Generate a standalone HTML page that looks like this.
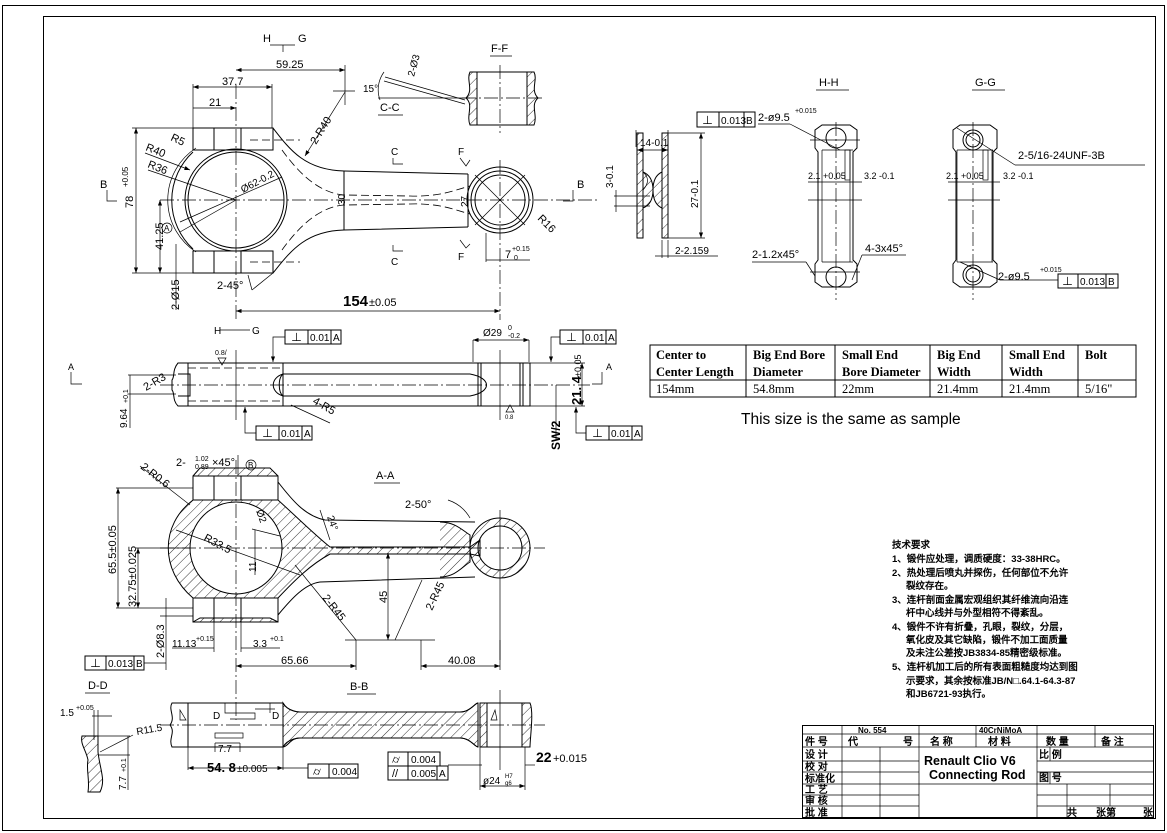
<!DOCTYPE html>
<html><head><meta charset="utf-8"><style>
html,body{margin:0;padding:0;background:#fff}
svg{display:block;font-size:10px}
text{font-family:"Liberation Sans","Noto Sans CJK SC",sans-serif;fill:#000}
.s{fill:none;stroke:#000;stroke-width:1}
.t{fill:none;stroke:#000;stroke-width:0.7}
.c{fill:none;stroke:#000;stroke-width:0.7;stroke-dasharray:14 3 2 3}
.d{fill:none;stroke:#000;stroke-width:0.8;stroke-dasharray:8 4}
.h{fill:url(#hatch);stroke:#000;stroke-width:1}
.tb text{font-family:"Liberation Sans","WenQuanYi Zen Hei",sans-serif;font-weight:bold}
.tbl text{font-family:"Liberation Serif",serif}
</style></head><body>
<svg width="1167" height="833" viewBox="0 0 1167 833" xmlns="http://www.w3.org/2000/svg">
<defs>
<pattern id="hatch" width="7" height="7" patternUnits="userSpaceOnUse" patternTransform="rotate(45)">
<line x1="0" y1="0" x2="0" y2="7" stroke="#000" stroke-width="0.8"/></pattern>
<marker id="a" markerWidth="8" markerHeight="6" refX="8" refY="3" orient="auto"><path d="M0,0 L8,3 L0,6z" fill="#000"/></marker>
<marker id="b" markerWidth="8" markerHeight="6" refX="0" refY="3" orient="auto"><path d="M8,0 L0,3 L8,6z" fill="#000"/></marker>
</defs>
<rect width="1167" height="833" fill="#fff"/>
<rect x="2.5" y="5.5" width="1162" height="825" class="s"/>
<rect x="43.5" y="16.5" width="1112" height="802" class="s" stroke-width="1.3"/>

<!-- ============ TOP VIEW ============ -->
<line x1="160" y1="200" x2="600" y2="200" class="c"/>
<line x1="236" y1="85" x2="236" y2="320" class="c"/>
<line x1="500" y1="160" x2="500" y2="320" class="c"/>
<rect x="193" y="128" width="80" height="22" class="s"/>
<rect x="193" y="251" width="80" height="22" class="s"/>
<line x1="214" y1="128" x2="214" y2="150" class="s"/><line x1="241" y1="128" x2="241" y2="150" class="s"/>
<line x1="214" y1="251" x2="214" y2="273" class="s"/><line x1="241" y1="251" x2="241" y2="273" class="s"/>
<line x1="250" y1="140" x2="300" y2="140" class="d"/><line x1="250" y1="262" x2="300" y2="262" class="d"/>
<path d="M193,152 A66,66 0 0 0 193,249" class="s"/>
<path d="M196,148 A62,62 0 0 0 196,252" class="t"/>
<circle cx="236" cy="200" r="51" class="s"/>
<circle cx="236" cy="200" r="48" class="s" stroke-width="2"/>
<path d="M273,128 C290,150 305,170 344,171 L468,174" class="s"/>
<path d="M273,273 C290,252 305,231 344,230 L468,227" class="s"/>
<line x1="344" y1="171" x2="344" y2="230" class="s"/>
<line x1="468" y1="174" x2="468" y2="227" class="s"/>
<path d="M282,150 C300,175 320,193 344,195 L410,196 C440,197 455,190 470,186" class="d"/>
<path d="M282,250 C300,225 320,207 344,205 L410,204 C440,203 455,210 470,214" class="d"/>
<circle cx="500" cy="200" r="33" class="s"/>
<circle cx="500" cy="200" r="29" class="s"/>
<circle cx="500" cy="200" r="25" class="s"/>
<line x1="475" y1="175" x2="525" y2="225" class="t"/><line x1="475" y1="225" x2="525" y2="175" class="t"/>
<text x="263" y="42" font-size="11">H</text><text x="298" y="42" font-size="11">G</text>
<line x1="270" y1="45" x2="295" y2="45" class="t"/><line x1="283" y1="45" x2="283" y2="52" class="t"/>
<line x1="236" y1="70" x2="345" y2="70" class="t" marker-start="url(#b)" marker-end="url(#a)"/><text x="276" y="68" font-size="11">59.25</text>
<line x1="345" y1="65" x2="345" y2="105" class="t"/><line x1="333" y1="91" x2="355" y2="91" class="t"/>
<line x1="193" y1="87" x2="272" y2="87" class="t" marker-start="url(#b)" marker-end="url(#a)"/><text x="222" y="85" font-size="11">37.7</text>
<line x1="193" y1="84" x2="193" y2="128" class="t"/><line x1="272" y1="84" x2="272" y2="128" class="t"/>
<line x1="193" y1="108" x2="236" y2="108" class="t" marker-end="url(#a)"/><text x="209" y="106" font-size="11">21</text>
<line x1="345" y1="92" x2="305" y2="156" class="t" marker-end="url(#a)"/>
<text x="0" y="0" font-size="11" transform="translate(316,145) rotate(-58)">2-R40</text>
<text x="170" y="140" font-size="11" transform="rotate(25 170 140)">R5</text>
<text x="145" y="150" font-size="11" transform="rotate(22 145 150)">R40</text>
<text x="147" y="167" font-size="11" transform="rotate(22 147 167)">R36</text>
<line x1="145" y1="153" x2="190" y2="170" class="t" marker-end="url(#a)"/>
<line x1="148" y1="170" x2="236" y2="200" class="t"/>
<line x1="180" y1="222" x2="282" y2="177" class="t"/>
<text x="0" y="0" font-size="10" transform="translate(243,193) rotate(-28)">Ø62-0.2</text>
<circle cx="167" cy="228" r="5" class="t"/><text x="164" y="231" font-size="8">A</text>
<line x1="180" y1="232" x2="236" y2="200" class="t"/>
<line x1="132" y1="128" x2="193" y2="128" class="t"/><line x1="132" y1="273" x2="193" y2="273" class="t"/>
<line x1="136" y1="128" x2="136" y2="273" class="t" marker-start="url(#b)" marker-end="url(#a)"/>
<text x="0" y="0" font-size="11" transform="translate(133,208) rotate(-90)">78</text>
<text x="0" y="0" font-size="8" transform="translate(128,187) rotate(-90)">+0.05</text>
<line x1="160" y1="200" x2="160" y2="273" class="t" marker-start="url(#b)" marker-end="url(#a)"/>
<text x="0" y="0" font-size="11" transform="translate(163,250) rotate(-90)">41.25</text>
<line x1="176" y1="244" x2="176" y2="310" class="t"/>
<text x="0" y="0" font-size="11" transform="translate(179,310) rotate(-90)">2-Ø15</text>
<text x="100" y="188" font-size="11">B</text><path d="M107,190 L107,201 L117,201" class="t"/>
<text x="577" y="188" font-size="11">B</text><path d="M573,190 L573,201 L563,201" class="t"/>
<text x="217" y="289" font-size="11">2-45°</text>
<line x1="248" y1="275" x2="252" y2="290" class="t"/><line x1="252" y1="290" x2="273" y2="273" class="t"/>
<line x1="236" y1="311" x2="500" y2="311" class="t" marker-start="url(#b)" marker-end="url(#a)"/>
<text x="343" y="306" font-size="15" font-weight="bold" font-family="Liberation Serif">154</text><text x="369" y="306" font-size="11">±0.05</text>
<text x="0" y="0" font-size="10" transform="translate(345,205) rotate(-90)">30</text>
<text x="0" y="0" font-size="10" transform="translate(468,207) rotate(-90)">27</text>
<line x1="486" y1="233" x2="486" y2="262" class="t"/><line x1="486" y1="260" x2="530" y2="260" class="t"/>
<text x="505" y="258" font-size="11">7</text><text x="512" y="251" font-size="7">+0.15</text><text x="514" y="260" font-size="7">0</text>
<text x="0" y="0" font-size="11" transform="translate(537,219) rotate(45)">R16</text>
<text x="391" y="155" font-size="10">C</text><path d="M393,158 L393,164 L403,164" class="t"/>
<text x="391" y="265" font-size="10">C</text><path d="M393,245 L393,251 L403,251" class="t"/>
<text x="458" y="155" font-size="10">F</text><path d="M460,158 L466,166 L470,160" class="t"/>
<text x="458" y="260" font-size="10">F</text><path d="M460,240 L466,248 L470,244" class="t"/>
<text x="380" y="111" font-size="11">C-C</text><line x1="378" y1="115" x2="403" y2="115" class="t"/>
<line x1="378" y1="98" x2="470" y2="98" class="t"/>
<text x="363" y="92" font-size="10">15°</text>
<path d="M384,72 A30,30 0 0 0 380,100" class="t"/>
<line x1="385" y1="77" x2="465" y2="100" class="t"/><line x1="384" y1="81" x2="465" y2="104" class="t"/>
<text x="0" y="0" font-size="10" transform="translate(414,77) rotate(-75)">2-Ø3</text>
<text x="491" y="52" font-size="11">F-F</text><line x1="490" y1="56" x2="512" y2="56" class="t"/>
<rect x="477" y="72" width="50" height="53" class="s"/>
<path d="M470,72 L477,72 L477,125 L470,125 C466,115 474,105 466,98 C474,90 466,80 470,72z" class="h"/>
<path d="M534,72 L527,72 L527,125 L534,125 C538,115 530,105 538,98 C530,90 538,80 534,72z" class="h"/>
<line x1="500" y1="65" x2="500" y2="133" class="c"/>
<line x1="462" y1="98" x2="545" y2="98" class="c"/>

<!-- I-section -->
<rect x="637" y="133" width="6" height="105" class="h"/>
<rect x="662" y="133" width="6" height="105" class="h"/>
<path d="M643,172 Q653,176 653,190 Q653,176 662,172 L662,208 Q653,204 653,190 Q653,204 643,208z" class="h"/>
<path d="M643,172 Q652,180 643,190" class="t"/>
<line x1="636" y1="147" x2="636" y2="130" class="t"/><line x1="668" y1="130" x2="668" y2="147" class="t"/>
<line x1="637" y1="150" x2="668" y2="150" class="t" marker-start="url(#b)" marker-end="url(#a)"/><text x="640" y="146" font-size="10">14-0.1</text>
<line x1="668" y1="133" x2="705" y2="133" class="t"/><line x1="668" y1="238" x2="705" y2="238" class="t"/>
<line x1="701" y1="133" x2="701" y2="238" class="t" marker-start="url(#b)" marker-end="url(#a)"/>
<text x="0" y="0" font-size="10" transform="translate(698,208) rotate(-90)">27-0.1</text>
<line x1="614" y1="196" x2="650" y2="196" class="t"/><line x1="614" y1="206" x2="650" y2="206" class="t"/>
<line x1="616" y1="190" x2="616" y2="212" class="t"/>
<text x="0" y="0" font-size="10" transform="translate(613,188) rotate(-90)">3-0.1</text>
<line x1="655" y1="256" x2="718" y2="256" class="t"/><line x1="662" y1="240" x2="662" y2="258" class="t"/><line x1="668" y1="240" x2="668" y2="258" class="t"/>
<text x="675" y="254" font-size="10">2-2.159</text>

<!-- H-H -->
<text x="819" y="86" font-size="11">H-H</text><line x1="816" y1="90" x2="849" y2="90" class="t"/>
<path d="M815,130 L822,125 L850,125 L857,130 L857,148 L853,152 L853,260 L857,264 L857,282 L850,287 L822,287 L815,282 L815,264 L818,260 L818,152 L815,148z" class="s"/>
<line x1="822" y1="150" x2="853" y2="150" class="t"/><line x1="822" y1="262" x2="853" y2="262" class="t"/>
<line x1="822" y1="150" x2="822" y2="262" class="t"/><line x1="850" y1="150" x2="850" y2="262" class="t"/>
<circle cx="836" cy="138" r="10" class="s" stroke-width="1.5"/>
<circle cx="836" cy="277" r="10" class="s" stroke-width="1.5"/>
<rect x="845" y="150" width="5" height="30" class="t"/>
<line x1="836" y1="122" x2="836" y2="300" class="c"/>
<line x1="810" y1="140" x2="860" y2="140" class="t"/><line x1="810" y1="272" x2="860" y2="272" class="t"/>
<line x1="808" y1="182" x2="862" y2="182" class="t"/><line x1="808" y1="200" x2="862" y2="200" class="t"/>
<text x="808" y="179" font-size="9">2.1 +0.05</text><text x="864" y="179" font-size="9">3.2 -0.1</text>
<rect x="697" y="112" width="58" height="15" class="s"/><line x1="719" y1="112" x2="719" y2="127" class="s"/><line x1="744" y1="112" x2="744" y2="127" class="s"/>
<text x="702" y="124" font-size="11">⊥</text><text x="721" y="124" font-size="10">0.013</text><text x="746" y="124" font-size="10">B</text>
<text x="758" y="121" font-size="11">2-ø9.5</text><text x="795" y="113" font-size="7">+0.015</text>
<line x1="758" y1="124" x2="790" y2="124" class="t"/><line x1="790" y1="124" x2="840" y2="150" class="t"/>
<text x="752" y="258" font-size="11">2-1.2x45°</text><line x1="752" y1="262" x2="806" y2="262" class="t"/><line x1="806" y1="262" x2="815" y2="276" class="t"/>
<text x="865" y="252" font-size="11">4-3x45°</text><line x1="862" y1="255" x2="906" y2="255" class="t"/><line x1="862" y1="255" x2="852" y2="280" class="t"/>

<!-- G-G -->
<text x="975" y="86" font-size="11">G-G</text><line x1="972" y1="90" x2="1005" y2="90" class="t"/>
<path d="M953,130 L960,125 L990,125 L997,130 L997,148 L993,152 L993,260 L997,264 L997,282 L990,287 L960,287 L953,282 L953,264 L956,260 L956,152 L953,148z" class="s"/>
<line x1="957" y1="150" x2="993" y2="150" class="t"/><line x1="957" y1="262" x2="993" y2="262" class="t"/>
<line x1="957" y1="150" x2="957" y2="262" class="t"/><line x1="992" y1="150" x2="992" y2="262" class="t"/>
<circle cx="973" cy="140" r="10" class="s"/><circle cx="973" cy="140" r="7" class="s"/>
<circle cx="973" cy="275" r="10" class="s"/><circle cx="973" cy="275" r="7" class="s"/>
<rect x="983" y="150" width="5" height="30" class="t"/>
<line x1="973" y1="122" x2="973" y2="300" class="c"/>
<line x1="948" y1="182" x2="1000" y2="182" class="t"/><line x1="948" y1="200" x2="1000" y2="200" class="t"/>
<text x="946" y="179" font-size="9">2.1 +0.05</text><text x="1003" y="179" font-size="9">3.2 -0.1</text>
<line x1="957" y1="128" x2="1015" y2="165" class="t"/><line x1="1015" y1="165" x2="1145" y2="165" class="t"/>
<text x="1018" y="159" font-size="11">2-5/16-24UNF-3B</text>
<line x1="960" y1="262" x2="1000" y2="280" class="t"/><line x1="1000" y1="280" x2="1058" y2="280" class="t"/>
<text x="998" y="280" font-size="11">2-ø9.5</text><text x="1040" y="272" font-size="7">+0.015</text>
<rect x="1058" y="274" width="60" height="14" class="s"/><line x1="1078" y1="274" x2="1078" y2="288" class="s"/><line x1="1106" y1="274" x2="1106" y2="288" class="s"/>
<text x="1062" y="285" font-size="11">⊥</text><text x="1080" y="285" font-size="10">0.013</text><text x="1108" y="285" font-size="10">B</text>

<!-- ============ SIDE VIEW ============ -->
<text x="214" y="334" font-size="10">H</text><text x="252" y="334" font-size="10">G</text>
<line x1="220" y1="330" x2="250" y2="330" class="t"/>
<path d="M178,363 L530,363 L530,406 L178,406 C172,400 175,393 172,390 L172,380 C175,377 172,370 178,363z" class="s"/>
<line x1="188" y1="363" x2="188" y2="406" class="s"/>
<line x1="283" y1="363" x2="283" y2="406" class="s"/>
<line x1="478" y1="363" x2="478" y2="406" class="s"/><line x1="481" y1="363" x2="481" y2="406" class="s"/>
<line x1="520" y1="363" x2="520" y2="406" class="s"/><line x1="523" y1="363" x2="523" y2="406" class="s"/>
<path d="M283,374 L470,374 C492,378 492,392 470,396 L283,396 C278,392 278,378 283,374z" class="s"/>
<path d="M283,374 C270,378 270,392 283,396" class="s"/>
<line x1="188" y1="368" x2="280" y2="368" class="d"/><line x1="188" y1="401" x2="280" y2="401" class="d"/>
<line x1="160" y1="385" x2="590" y2="385" class="c"/>
<line x1="236" y1="350" x2="236" y2="420" class="t"/>
<line x1="500" y1="350" x2="500" y2="420" class="t"/>
<path d="M178,374 L190,374 L190,396 L178,396" class="s"/>
<text x="215" y="355" font-size="7">0.8/</text><path d="M218,358 L226,358 L222,365z" class="t"/>
<text x="0" y="0" font-size="11" transform="translate(146,391) rotate(-30)">2-R3</text>
<line x1="128" y1="375" x2="176" y2="375" class="t"/><line x1="128" y1="394" x2="176" y2="394" class="t"/>
<line x1="130" y1="375" x2="130" y2="428" class="t"/>
<text x="0" y="0" font-size="10" transform="translate(127,428) rotate(-90)">9.64</text>
<text x="0" y="0" font-size="7" transform="translate(128,403) rotate(-90)">+0.1</text>
<text x="68" y="370" font-size="9">A</text><path d="M71,372 L71,384 L82,384" class="t"/>
<text x="606" y="370" font-size="9">A</text><path d="M602,372 L602,384 L592,384" class="t"/>
<text x="0" y="0" font-size="11" transform="translate(312,403) rotate(30)">4-R5</text>
<line x1="291" y1="405" x2="330" y2="423" class="t"/>
<g font-size="10">
<rect x="285" y="330" width="56" height="14" class="s"/><line x1="308" y1="330" x2="308" y2="344" class="s"/><line x1="331" y1="330" x2="331" y2="344" class="s"/>
<text x="291" y="341" font-size="11">⊥</text><text x="310" y="341">0.01</text><text x="333" y="341">A</text>
<path d="M285,337 L273,337 L273,362" class="t" marker-end="url(#a)"/>
<rect x="560" y="330" width="56" height="14" class="s"/><line x1="583" y1="330" x2="583" y2="344" class="s"/><line x1="606" y1="330" x2="606" y2="344" class="s"/>
<text x="566" y="341" font-size="11">⊥</text><text x="585" y="341">0.01</text><text x="608" y="341">A</text>
<path d="M560,337 L551,337 L551,362" class="t" marker-end="url(#a)"/>
<rect x="256" y="426" width="56" height="14" class="s"/><line x1="279" y1="426" x2="279" y2="440" class="s"/><line x1="302" y1="426" x2="302" y2="440" class="s"/>
<text x="262" y="437" font-size="11">⊥</text><text x="281" y="437">0.01</text><text x="304" y="437">A</text>
<path d="M256,433 L245,433 L245,407" class="t" marker-end="url(#a)"/>
<rect x="586" y="426" width="56" height="14" class="s"/><line x1="609" y1="426" x2="609" y2="440" class="s"/><line x1="632" y1="426" x2="632" y2="440" class="s"/>
<text x="592" y="437" font-size="11">⊥</text><text x="611" y="437">0.01</text><text x="634" y="437">A</text>
<path d="M586,433 L576,433 L576,407" class="t" marker-end="url(#a)"/>
</g>
<line x1="473" y1="340" x2="473" y2="362" class="t"/><line x1="529" y1="340" x2="529" y2="362" class="t"/>
<line x1="473" y1="340" x2="529" y2="340" class="t" marker-start="url(#b)" marker-end="url(#a)"/>
<text x="483" y="336" font-size="10">Ø29</text><text x="508" y="330" font-size="7">0</text><text x="508" y="338" font-size="7">-0.2</text>
<line x1="530" y1="363" x2="585" y2="363" class="t"/><line x1="530" y1="406" x2="585" y2="406" class="t"/>
<line x1="582" y1="363" x2="582" y2="406" class="t" marker-start="url(#b)" marker-end="url(#a)"/>
<text x="0" y="0" font-size="13" font-weight="bold" font-family="Liberation Serif" transform="translate(581,405) rotate(-90)">21. 4</text>
<text x="0" y="0" font-size="9" transform="translate(581,377) rotate(-90)">±0.05</text>
<line x1="556" y1="385" x2="556" y2="440" class="t"/>
<text x="0" y="0" font-size="12" font-weight="bold" font-family="Liberation Serif" transform="translate(560,450) rotate(-90)">SW/2</text>
<path d="M506,412 L514,412 L510,405z" class="t"/><text x="505" y="419" font-size="6">0.8</text>

<!-- table -->
<g class="tbl" font-size="12.5">
<rect x="650" y="345" width="486" height="52" class="s"/>
<line x1="650" y1="380" x2="1136" y2="380" class="s"/>
<line x1="746" y1="345" x2="746" y2="397" class="s"/><line x1="835" y1="345" x2="835" y2="397" class="s"/>
<line x1="930" y1="345" x2="930" y2="397" class="s"/><line x1="1002" y1="345" x2="1002" y2="397" class="s"/>
<line x1="1078" y1="345" x2="1078" y2="397" class="s"/>
<g font-weight="bold">
<text x="656" y="359">Center to</text><text x="656" y="376">Center Length</text>
<text x="753" y="359">Big End Bore</text><text x="753" y="376">Diameter</text>
<text x="842" y="359">Small End</text><text x="842" y="376">Bore Diameter</text>
<text x="937" y="359">Big End</text><text x="937" y="376">Width</text>
<text x="1009" y="359">Small End</text><text x="1009" y="376">Width</text>
<text x="1085" y="359">Bolt</text>
</g>
<text x="656" y="393">154mm</text><text x="753" y="393">54.8mm</text><text x="842" y="393">22mm</text>
<text x="937" y="393">21.4mm</text><text x="1009" y="393">21.4mm</text><text x="1085" y="393">5/16"</text>
</g>
<text x="741" y="424" font-size="15.5">This size is the same as sample</text>

<!-- ============ A-A ============ -->
<text x="376" y="479" font-size="11">A-A</text><line x1="374" y1="483" x2="400" y2="483" class="t"/>
<path fill-rule="evenodd" d="M193,500 L278,500 C300,520 315,535 330,547 L470,547 L480,540 L480,556 L470,554 L330,554 C310,565 295,580 278,598 L193,598 C160,570 160,525 193,500z M282,548 A46,46 0 1 0 190,548 A46,46 0 1 0 282,548z" class="h"/>
<rect x="193" y="476" width="85" height="24" class="s" fill="#fff"/>
<rect x="193" y="598" width="85" height="24" class="s" fill="#fff"/>
<line x1="214" y1="476" x2="214" y2="500" class="s"/><line x1="241" y1="476" x2="241" y2="500" class="s"/>
<line x1="214" y1="598" x2="214" y2="622" class="s"/><line x1="241" y1="598" x2="241" y2="622" class="s"/>
<path d="M193,476 L200,468 L270,468 L278,476" class="h"/><path d="M193,622 L200,618 L270,618 L278,622" class="h"/>
<path d="M278,482 C292,500 305,516 325,520 L475,522" class="s"/>
<path d="M278,615 C292,598 305,584 320,582 L475,577" class="s"/>
<path d="M440,522 C455,522 462,530 470,535 L470,562 C462,567 455,577 440,577" class="h"/>
<path fill-rule="evenodd" d="M530,548 A30,30 0 1 0 470,548 A30,30 0 1 0 530,548z M522,548 A22,22 0 1 0 478,548 A22,22 0 1 0 522,548z" class="h"/>
<line x1="160" y1="548" x2="545" y2="548" class="c"/>
<line x1="236" y1="460" x2="236" y2="720" class="c"/>
<line x1="500" y1="510" x2="500" y2="660" class="t"/>
<text x="0" y="0" font-size="11" transform="translate(140,468) rotate(38)">2-R0.6</text>
<line x1="140" y1="466" x2="190" y2="505" class="t"/>
<text x="176" y="466" font-size="11">2-</text><text x="195" y="461" font-size="7">1.02</text><text x="195" y="469" font-size="7">0.89</text><text x="212" y="466" font-size="11">×45°</text>
<line x1="238" y1="455" x2="238" y2="475" class="t"/><circle cx="251" cy="465" r="5" class="t"/><text x="248" y="468" font-size="8">B</text>
<text x="405" y="508" font-size="11">2-50°</text>
<path d="M448,500 A40,40 0 0 1 470,518" class="t"/>
<text x="0" y="0" font-size="10" transform="translate(327,517) rotate(70)">24°</text>
<line x1="320" y1="510" x2="330" y2="540" class="t"/>
<text x="0" y="0" font-size="11" transform="translate(203,540) rotate(28)">R33.5</text>
<line x1="176" y1="530" x2="300" y2="575" class="t"/>
<line x1="252" y1="529" x2="280" y2="536" class="t"/>
<text x="0" y="0" font-size="10" transform="translate(256,511) rotate(70)">Ø2</text>
<line x1="255" y1="530" x2="255" y2="575" class="t"/>
<text x="0" y="0" font-size="10" transform="translate(256,572) rotate(-90)">11</text>
<line x1="295" y1="565" x2="356" y2="640" class="t"/>
<text x="0" y="0" font-size="11" transform="translate(322,598) rotate(52)">2-R45</text>
<line x1="395" y1="640" x2="422" y2="580" class="t"/>
<text x="0" y="0" font-size="11" transform="translate(432,611) rotate(-65)">2-R45</text>
<line x1="345" y1="640" x2="435" y2="640" class="t"/>
<line x1="388" y1="553" x2="388" y2="640" class="t" marker-start="url(#b)" marker-end="url(#a)"/>
<text x="0" y="0" font-size="11" transform="translate(387,603) rotate(-90)">45</text>
<line x1="116" y1="488" x2="193" y2="488" class="t"/><line x1="116" y1="608" x2="193" y2="608" class="t"/>
<line x1="118" y1="488" x2="118" y2="608" class="t" marker-start="url(#b)" marker-end="url(#a)"/>
<text x="0" y="0" font-size="11" transform="translate(116,574) rotate(-90)">65.5±0.05</text>
<line x1="136" y1="548" x2="190" y2="548" class="t"/>
<line x1="138" y1="548" x2="138" y2="608" class="t" marker-start="url(#b)" marker-end="url(#a)"/>
<text x="0" y="0" font-size="11" transform="translate(136,607) rotate(-90)">32.75±0.025</text>
<line x1="166" y1="598" x2="166" y2="670" class="t"/><line x1="160" y1="616" x2="193" y2="616" class="t"/>
<text x="0" y="0" font-size="11" transform="translate(164,658) rotate(-90)">2-Ø8.3</text>
<rect x="85" y="656" width="59" height="14" class="s"/><line x1="106" y1="656" x2="106" y2="670" class="s"/><line x1="134" y1="656" x2="134" y2="670" class="s"/>
<text x="90" y="667" font-size="11">⊥</text><text x="108" y="667">0.013</text><text x="136" y="667">B</text>
<line x1="144" y1="663" x2="166" y2="663" class="t"/>
<line x1="214" y1="622" x2="214" y2="652" class="t"/><line x1="241" y1="622" x2="241" y2="652" class="t"/>
<line x1="172" y1="648" x2="214" y2="648" class="t"/><text x="172" y="647" font-size="10">11.13</text><text x="196" y="641" font-size="7">+0.15</text>
<line x1="241" y1="648" x2="280" y2="648" class="t"/><text x="253" y="647" font-size="10">3.3</text><text x="270" y="641" font-size="7">+0.1</text>
<line x1="356" y1="640" x2="356" y2="670" class="t"/><line x1="421" y1="640" x2="421" y2="670" class="t"/>
<line x1="500" y1="640" x2="500" y2="670" class="t"/>
<line x1="236" y1="666" x2="356" y2="666" class="t" marker-start="url(#b)" marker-end="url(#a)"/><text x="281" y="664" font-size="11">65.66</text>
<line x1="421" y1="666" x2="500" y2="666" class="t" marker-start="url(#b)" marker-end="url(#a)"/><text x="448" y="664" font-size="11">40.08</text>

<!-- ============ D-D ============ -->
<text x="88" y="689" font-size="11">D-D</text><line x1="85" y1="693" x2="110" y2="693" class="t"/>
<path d="M82,736 L98,736 L98,752 C100,770 106,780 100,792 L88,792 C90,780 86,770 88,760 C86,750 80,744 82,736z" class="h"/>
<line x1="98" y1="736" x2="130" y2="736" class="t"/><line x1="98" y1="755" x2="130" y2="755" class="t"/>
<line x1="92" y1="716" x2="112" y2="716" class="t"/><line x1="94" y1="710" x2="94" y2="740" class="t"/><line x1="98" y1="710" x2="98" y2="740" class="t"/>
<text x="60" y="716" font-size="10">1.5</text><text x="76" y="710" font-size="7">+0.05</text>
<line x1="100" y1="752" x2="133" y2="735" class="t"/><text x="0" y="0" font-size="10" transform="translate(137,735) rotate(-10)">R11.5</text>
<line x1="128" y1="736" x2="128" y2="790" class="t"/>
<text x="0" y="0" font-size="10" transform="translate(126,790) rotate(-90)">7.7</text><text x="0" y="0" font-size="7" transform="translate(126,772) rotate(-90)">+0.1</text>

<!-- ============ B-B ============ -->
<text x="350" y="690" font-size="11">B-B</text><line x1="347" y1="694" x2="376" y2="694" class="t"/>
<path d="M172,703 L283,703 C288,712 300,712 300,712 L460,712 C470,712 475,703 478,703 L478,747 C475,747 470,738 460,738 L300,738 C300,738 288,738 283,747 L172,747 C168,738 176,733 170,725 C176,717 168,710 172,703z" class="s"/>
<path d="M283,703 C288,712 300,712 300,712 L460,712 C470,712 475,703 478,703 L478,747 C475,747 470,738 460,738 L300,738 C290,738 288,747 283,747z" class="h"/>
<path d="M480,703 L487,703 L487,747 L480,747z" class="h"/>
<path d="M522,703 L530,703 C534,712 530,738 530,747 L522,747z" class="h"/>
<line x1="487" y1="703" x2="522" y2="703" class="s"/><line x1="487" y1="747" x2="522" y2="747" class="s"/>
<line x1="188" y1="703" x2="188" y2="747" class="s"/>
<line x1="160" y1="725" x2="545" y2="725" class="c"/>
<line x1="500" y1="690" x2="500" y2="770" class="t"/>
<path d="M225,703 L225,713 L255,713 L255,719 L230,719" class="t"/><line x1="255" y1="709" x2="275" y2="709" class="t"/>
<line x1="270" y1="703" x2="270" y2="713" class="t"/>
<text x="213" y="719" font-size="10">D</text><text x="272" y="719" font-size="10">D</text>
<rect x="215" y="733" width="28" height="5" class="t"/>
<line x1="215" y1="743" x2="240" y2="743" class="t"/><line x1="215" y1="743" x2="215" y2="752" class="t"/><line x1="240" y1="743" x2="240" y2="752" class="t"/>
<text x="218" y="752" font-size="10">7.7</text>
<path d="M180,710 L186,720 L180,720z" class="t"/><path d="M495,710 L491,720 L497,720z" class="t"/>
<line x1="188" y1="747" x2="188" y2="770" class="t"/><line x1="283" y1="747" x2="283" y2="770" class="t"/>
<line x1="188" y1="768" x2="283" y2="768" class="t" marker-start="url(#b)" marker-end="url(#a)"/>
<text x="207" y="772" font-size="13" font-weight="bold" font-family="Liberation Serif">54. 8</text><text x="237" y="772" font-size="10">±0.005</text>
<line x1="283" y1="768" x2="308" y2="768" class="t"/>
<rect x="308" y="764" width="50" height="14" class="s"/><line x1="329" y1="764" x2="329" y2="778" class="s"/>
<text x="313" y="775" font-size="11">⌭</text><text x="332" y="775">0.004</text>
<rect x="388" y="752" width="52" height="14" class="s"/><line x1="408" y1="752" x2="408" y2="766" class="s"/>
<text x="392" y="763" font-size="11">⌭</text><text x="411" y="763">0.004</text>
<rect x="388" y="766" width="60" height="14" class="s"/><line x1="408" y1="766" x2="408" y2="780" class="s"/><line x1="437" y1="766" x2="437" y2="780" class="s"/>
<text x="392" y="777" font-size="11">//</text><text x="411" y="777">0.005</text><text x="439" y="777">A</text>
<line x1="448" y1="765" x2="482" y2="765" class="t"/>
<line x1="480" y1="747" x2="480" y2="790" class="t"/><line x1="525" y1="747" x2="525" y2="790" class="t"/>
<line x1="480" y1="786" x2="525" y2="786" class="t" marker-start="url(#b)" marker-end="url(#a)"/>
<text x="483" y="784" font-size="10">ø24</text><text x="505" y="778" font-size="6">H7</text><text x="505" y="785" font-size="6">g6</text>
<line x1="525" y1="765" x2="535" y2="765" class="t"/>
<text x="536" y="762" font-size="14" font-weight="bold" font-family="Liberation Serif">22</text><text x="553" y="762" font-size="11">+0.015</text>

<!-- tech req -->
<g class="tb" font-size="9.5">
<text x="892" y="548">技术要求</text>
<text x="892" y="562">1、锻件应处理，调质硬度：33-38HRC。</text>
<text x="892" y="576">2、热处理后喷丸并探伤，任何部位不允许</text>
<text x="906" y="589">裂纹存在。</text>
<text x="892" y="603">3、连杆剖面金属宏观组织其纤维流向沿连</text>
<text x="906" y="616">杆中心线并与外型相符不得紊乱。</text>
<text x="892" y="630">4、锻件不许有折叠，孔眼，裂纹，分层，</text>
<text x="906" y="643">氧化皮及其它缺陷，锻件不加工面质量</text>
<text x="906" y="656">及未注公差按JB3834-85精密级标准。</text>
<text x="892" y="670">5、连杆机加工后的所有表面粗糙度均达到图</text>
<text x="906" y="684">示要求，其余按标准JB/N□.64.1-64.3-87</text>
<text x="906" y="697">和JB6721-93执行。</text>
</g>

<!-- title block -->
<g class="tb" font-size="10">
<rect x="802.5" y="725.5" width="351" height="92" class="s"/>
<line x1="802" y1="734" x2="1153" y2="734" class="t"/>
<line x1="802" y1="747" x2="1153" y2="747" class="t"/>
<line x1="802" y1="761" x2="919" y2="761" class="t"/><line x1="1037" y1="761" x2="1153" y2="761" class="t"/>
<line x1="802" y1="772" x2="919" y2="772" class="t"/><line x1="1037" y1="772" x2="1153" y2="772" class="t"/>
<line x1="802" y1="784" x2="1153" y2="784" class="t"/>
<line x1="802" y1="795" x2="919" y2="795" class="t"/><line x1="1037" y1="795" x2="1153" y2="795" class="t"/>
<line x1="802" y1="806" x2="919" y2="806" class="t"/><line x1="1037" y1="806" x2="1153" y2="806" class="t"/>
<line x1="842" y1="726" x2="842" y2="818" class="t"/>
<line x1="880" y1="747" x2="880" y2="818" class="t"/>
<line x1="919" y1="726" x2="919" y2="818" class="t"/>
<line x1="976" y1="726" x2="976" y2="747" class="t"/>
<line x1="1037" y1="726" x2="1037" y2="818" class="t"/>
<line x1="1095" y1="726" x2="1095" y2="747" class="t"/>
<line x1="1067" y1="784" x2="1067" y2="818" class="t"/>
<line x1="1110" y1="784" x2="1110" y2="806" class="t"/>
<line x1="1050" y1="747" x2="1050" y2="761" class="t"/><line x1="1050" y1="772" x2="1050" y2="784" class="t"/>
<text x="858" y="733" font-size="8">No. 554</text>
<text x="979" y="733" font-size="8">40CrNiMoA</text>
<text x="805" y="745">件  号</text><text x="848" y="745">代</text><text x="903" y="745">号</text>
<text x="930" y="745">名  称</text><text x="988" y="745">材  料</text>
<text x="1046" y="745">数   量</text><text x="1101" y="745">备    注</text>
<text x="805" y="758">设  计</text><text x="805" y="770">校  对</text><text x="805" y="782">标准化</text>
<text x="805" y="793">工  艺</text><text x="805" y="804">审  核</text><text x="805" y="816">批  准</text>
<text x="1039" y="758">比    例</text><text x="1039" y="781">图    号</text>
<text x="1067" y="816">共</text><text x="1096" y="816">张第</text><text x="1143" y="816">张</text>
<text x="924" y="765" font-size="12.5" font-family="Liberation Mono,monospace">Renault Clio V6</text>
<text x="929" y="779" font-size="12.5" font-family="Liberation Mono,monospace">Connecting Rod</text>
</g>
</svg>
</body></html>
